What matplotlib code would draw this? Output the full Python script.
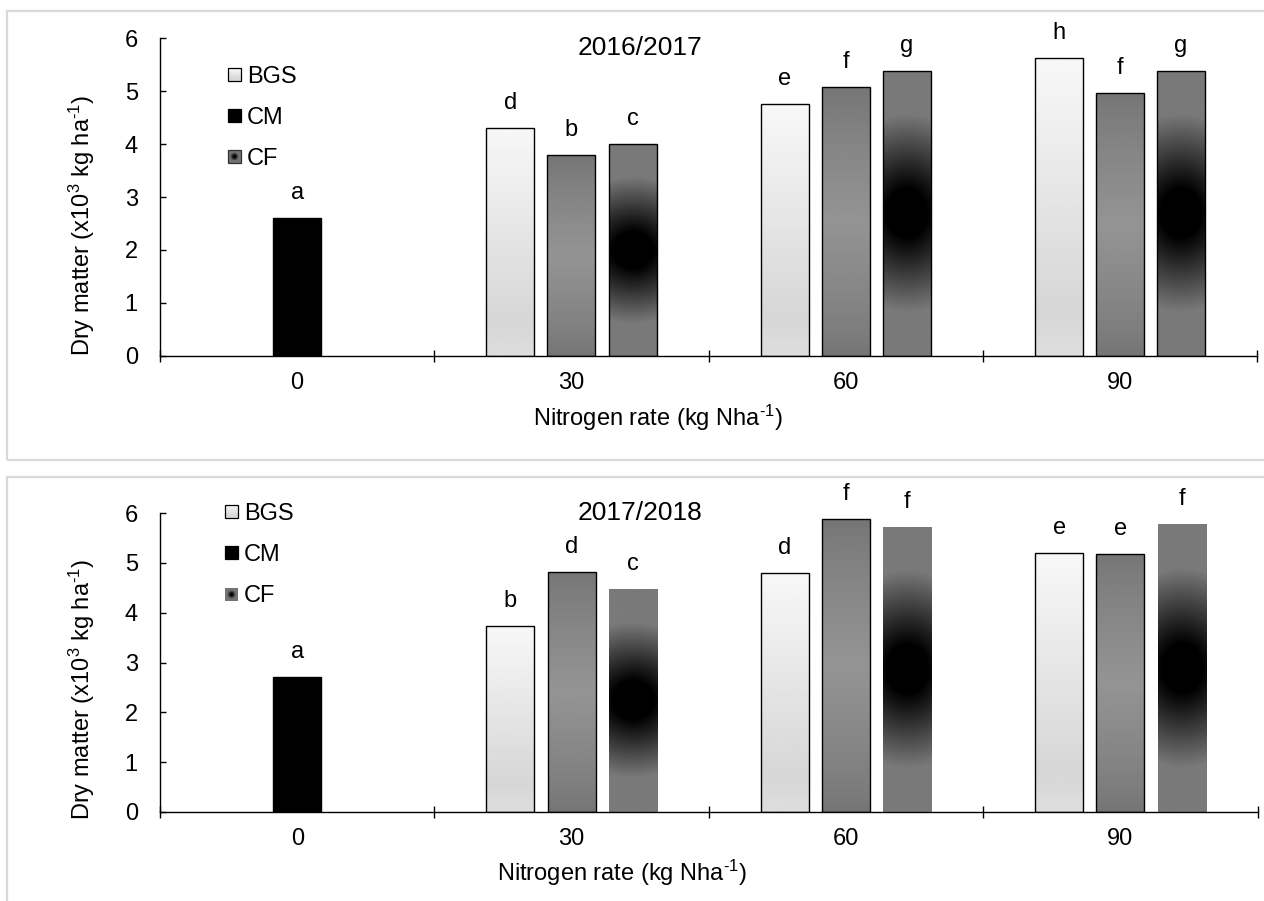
import numpy as np
import matplotlib
matplotlib.use("Agg")
import matplotlib.pyplot as plt
from matplotlib.patches import Rectangle, Patch
from matplotlib.legend_handler import HandlerBase
from matplotlib.image import BboxImage
from matplotlib.transforms import Bbox, TransformedBbox
from matplotlib.colors import Normalize

plt.rcParams['font.family'] = ['Liberation Sans', 'DejaVu Sans']
plt.rcParams['font.size'] = 17
plt.rcParams['mathtext.fontset'] = 'custom'
plt.rcParams['mathtext.rm'] = 'Liberation Sans'
plt.rcParams['mathtext.default'] = 'regular'

# data
rates = ['0', '30', '60', '90']
seasons = ['2016/2017', '2017/2018']

bgs_1617 = [np.nan, 4.30, 4.75, 5.62]
cm_1617 = [2.60, 3.79, 5.07, 4.96]
cf_1617 = [np.nan, 4.00, 5.38, 5.38]
bgs_1617_let = ['', 'd', 'e', 'h']
cm_1617_let = ['a', 'b', 'f', 'f']
cf_1617_let = ['', 'c', 'g', 'g']

bgs_1718 = [np.nan, 3.73, 4.80, 5.20]
cm_1718 = [2.70, 4.82, 5.88, 5.18]
cf_1718 = [np.nan, 4.48, 5.72, 5.78]
bgs_1718_let = ['', 'b', 'd', 'e']
cm_1718_let = ['a', 'd', 'f', 'e']
cf_1718_let = ['', 'c', 'f', 'f']

HY = '\u2010'  # short hyphen for the superscripts
xlab = 'Nitrogen rate (kg Nha$^{' + HY + '1}$)'
ylab = 'Dry matter (x10$^{3}$ kg ha$^{' + HY + '1}$)'


# gradient fills (Excel style)
def grad_bgs(ny=120, nx=20):
    f = np.linspace(0, 1, ny)
    v = np.interp(f, [0, 0.85, 1], [0.97, 0.84, 0.87])
    return np.repeat(v[:, None], nx, axis=1)


def grad_cm(ny=120, nx=20):
    f = np.linspace(-1, 1, ny)
    v = 0.46 + 0.12 * (1 - np.abs(f)) ** 0.8
    return np.repeat(v[:, None], nx, axis=1)


def grad_cf(ny=160, nx=30):
    dy = np.linspace(-1, 1, ny)[:, None]
    dx = np.linspace(-1, 1, nx)[None, :]
    t = np.sqrt(dy ** 2 + 0.04 * dx ** 2)
    return np.clip((t - 0.17) / (0.70 - 0.17), 0, 1) * 0.48


def swatch_cf(n=30):
    d = np.linspace(-1, 1, n)
    t = np.sqrt(d[:, None] ** 2 + d[None, :] ** 2)
    return np.clip((t - 0.15) / 0.55, 0, 1) * 0.45


class SwatchHandler(HandlerBase):
    def __init__(self, arr, edge):
        super().__init__()
        self.arr = arr
        self.edge = edge

    def create_artists(self, legend, orig_handle, xdescent, ydescent,
                       width, height, fontsize, trans):
        s = min(width, height)
        x0 = -xdescent
        y0 = -ydescent + (height - s) / 2
        bb = TransformedBbox(Bbox.from_bounds(x0, y0, s, s), trans)
        img = BboxImage(bb, cmap='gray', norm=Normalize(0, 1), interpolation='bilinear')
        img.set_data(self.arr)
        rect = Rectangle((x0, y0), s, s, facecolor='none', edgecolor=self.edge,
                         lw=0.9, transform=trans)
        return [img, rect]


fig = plt.figure(figsize=(12.64, 9.01), dpi=100)

# light grey frames round the two panels
fig.add_artist(Rectangle((0.0055, 0.4894), 1.2, 0.4984, transform=fig.transFigure,
                         facecolor='none', edgecolor='#d9d9d9', lw=1.6))
fig.add_artist(Rectangle((0.0055, -0.05), 1.2, 0.5206, transform=fig.transFigure,
                         facecolor='none', edgecolor='#d9d9d9', lw=1.6))

ax1 = fig.add_axes([0.1266, 0.6049, 0.8679, 0.3529])
ax2 = fig.add_axes([0.1266, 0.0988, 0.8684, 0.3318])

panels = [
    (ax1, seasons[0], [bgs_1617, cm_1617, cf_1617], [bgs_1617_let, cm_1617_let, cf_1617_let],
     True, (0.062, 0.912), (0.454, -0.195), 0.968),
    (ax2, seasons[1], [bgs_1718, cm_1718, cf_1718], [bgs_1718_let, cm_1718_let, cf_1718_let],
     False, (0.059, 1.033), (0.421, -0.204), 1.0),
]

x = np.arange(len(rates))
width = 0.175
offsets = [-0.223, 0.0, 0.223]

for ax, season, series, letters, cf_edge, leg_pos, xl_pos, title_y in panels:
    fills = [grad_bgs(), grad_cm(), grad_cf()]
    edges = ['black', 'black', 'black' if cf_edge else 'none']
    for k in range(3):
        bars = ax.bar(x + offsets[k], series[k], width, facecolor='none',
                      edgecolor=edges[k], lw=1.0, zorder=3)
        for i, b in enumerate(bars):
            h = b.get_height()
            if not np.isfinite(h):
                continue
            if k == 1 and i == 0:
                b.set_facecolor('black')
            else:
                im = ax.imshow(fills[k], cmap='gray', norm=Normalize(0, 1),
                               extent=[b.get_x(), b.get_x() + b.get_width(), 0, h],
                               aspect='auto', interpolation='bilinear', zorder=2)
                im.set_clip_path(b)
            ax.annotate(letters[k][i], (b.get_x() + b.get_width() / 2, h),
                        xytext=(0, 18), textcoords='offset points',
                        ha='center', va='center', annotation_clip=False)

    ax.set_xlim(-0.5, 3.5)
    ax.set_ylim(0, 6)
    ax.set_yticks(range(7))
    ax.set_xticks(x)
    ax.set_xticklabels(rates)
    ax.set_xticks(np.arange(-0.5, 4, 1), minor=True)
    ax.tick_params(axis='x', which='major', length=0, pad=11.5)
    ax.tick_params(axis='x', which='minor', direction='inout', length=8, width=1.0)
    ax.tick_params(axis='y', direction='in', length=4.5, width=1.0, pad=16)
    for s in ['top', 'right']:
        ax.spines[s].set_visible(False)
    ax.spines['left'].set_linewidth(1.0)
    ax.spines['bottom'].set_linewidth(1.0)

    ax.text(0.4376, title_y, season, transform=ax.transAxes, ha='center', va='center',
            fontsize=19)
    ax.text(xl_pos[0], xl_pos[1], xlab, transform=ax.transAxes,
            ha='center', va='center')
    ax.text(-0.071, 0.41, ylab, transform=ax.transAxes,
            ha='center', va='center', rotation=90)

    h_bgs = Patch(label='BGS')
    h_cm = Patch(label='CM')
    h_cf = Patch(label='CF')
    hmap = {h_bgs: SwatchHandler(grad_bgs(20, 20), 'black'),
            h_cm: SwatchHandler(np.zeros((4, 4)), 'black'),
            h_cf: SwatchHandler(swatch_cf(), '#333333' if cf_edge else 'none')}
    ax.legend(handles=[h_bgs, h_cm, h_cf], handler_map=hmap, loc='upper left',
              bbox_to_anchor=leg_pos, frameon=False, borderpad=0, borderaxespad=0,
              handlelength=0.55, handleheight=0.55, handletextpad=0.25, labelspacing=0.81)

fig.savefig('out.png', dpi=100)
